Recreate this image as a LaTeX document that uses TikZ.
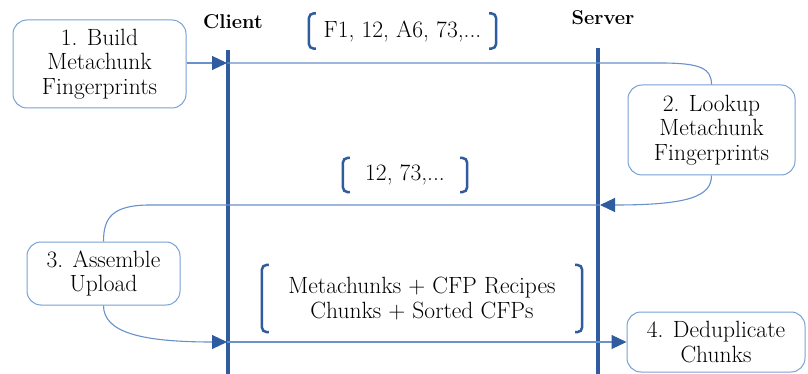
\documentclass[tikz,border=0pt]{standalone}
\usetikzlibrary{arrows.meta}
\definecolor{lifeblue}{RGB}{47,92,158}
\definecolor{linkblue}{RGB}{105,145,202}
\definecolor{boxblue}{RGB}{120,160,212}
\begin{document}
\begin{tikzpicture}[x=1pt,y=-1pt,
  every node/.style={font=\fontsize{23.5}{24.5}\selectfont},
  stepbox/.style={draw=boxblue, line width=1pt, rounded corners=14pt, align=center, inner sep=0pt},
  lifeline/.style={draw=lifeblue, line width=4pt},
  link/.style={draw=linkblue, line width=1.1pt},
  tip/.style={-{Triangle[length=15pt,width=14pt,fill=lifeblue,color=lifeblue]}},
  brk/.style={draw=lifeblue, line width=2.5pt, rounded corners=5pt},
  msg/.style={align=center, inner sep=0pt},
  actor/.style={font=\fontsize{20}{24}\selectfont\bfseries}]
\useasboundingbox (0,0) rectangle (808,374);

% actors and their lifelines
\node[actor] (client) at (233,22) {Client};
\node[actor] (server) at (603,18) {Server};
\coordinate (cTop) at (228,50);
\coordinate (cBot) at (228,374);
\coordinate (sTop) at (598,48);
\coordinate (sBot) at (598,374);
\draw[lifeline] (cTop) -- (cBot);
\draw[lifeline] (sTop) -- (sBot);

% steps
\node[stepbox, minimum width=173pt, minimum height=88pt] (b1) at (99.5,64) {1. Build\\Metachunk\\Fingerprints};
\node[stepbox, minimum width=167pt, minimum height=90pt] (b2) at (711.5,130) {2. Lookup\\Metachunk\\Fingerprints};
\node[stepbox, minimum width=153pt, minimum height=63pt] (b3) at (103.5,273.5) {3. Assemble\\Upload};
\node[stepbox, minimum width=178pt, minimum height=60pt] (b4) at (716,342) {4. Deduplicate\\Chunks};

% points where messages meet the lifelines
\coordinate (cA) at (227,63);
\coordinate (sB) at (600,205);
\coordinate (cC) at (227,342);

% 1 -> client -> 2
\draw[link, tip] (b1.east |- cA) -- (cA);
\draw[link] (cA) -- (660,63) .. controls (700,63) and (711.5,68) .. (b2.north);
% 2 -> server -> 3
\draw[link, tip] (b2.south) .. controls (711.5,196) and (690,205) .. (sB);
\draw[link] (sB) -- (150,205) .. controls (112,205) and (103.5,218) .. (b3.north);
% 3 -> client -> 4
\draw[link, tip] (b3.south) .. controls (103.5,332) and (140,342) .. (cC);
\draw[link, tip] (cC) -- (b4.west);

% message contents in brackets
\node[msg, minimum width=187pt, minimum height=35pt] (m1) at (402.5,31) {F1, 12, A6, 73,...};
\node[msg, minimum width=124pt, minimum height=34pt] (m2) at (405,175) {12, 73,...};
\node[msg, minimum width=320pt, minimum height=67pt] (m3) at (422,298.5) {Metachunks + CFP Recipes\\Chunks + Sorted CFPs};
\foreach \m in {m1,m2,m3}{
  \draw[brk] ([xshift=7pt]\m.north west) -- (\m.north west) -- (\m.south west) -- ([xshift=7pt]\m.south west);
  \draw[brk] ([xshift=-7pt]\m.north east) -- (\m.north east) -- (\m.south east) -- ([xshift=-7pt]\m.south east);
}
\end{tikzpicture}
\end{document}
